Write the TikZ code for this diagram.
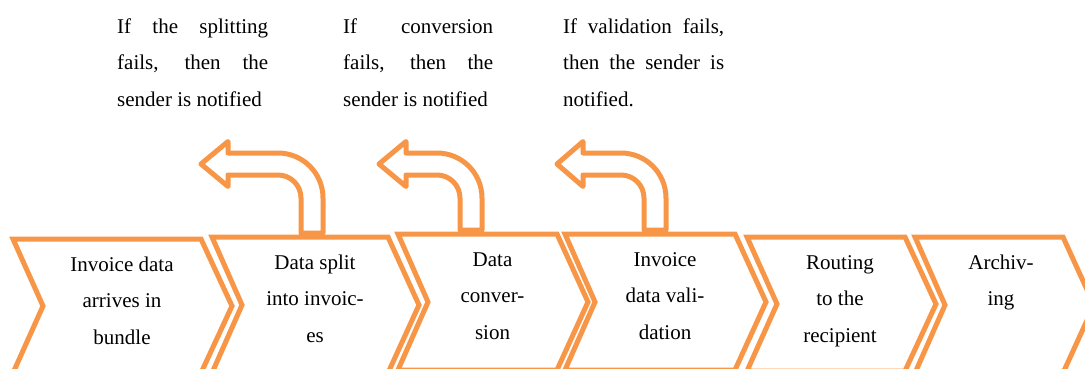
\documentclass[tikz,border=0pt]{standalone}
\usepackage{fontspec}
\setmainfont{Liberation Serif}
\definecolor{accent}{HTML}{F79646}
\newcommand\notefont{\fontsize{21}{36.5}\selectfont\tolerance=10000\relax\hyphenpenalty=10000\relax}
\tikzset{
  chev/.style={draw=accent, line width=5pt, line join=miter, fill=white},
  uturn/.style={draw=accent, line width=5pt, line join=round, fill=white},
  steplabel/.style={font=\fontsize{21}{36.5}\selectfont, align=center, anchor=north, inner sep=0pt},
  note/.style={font=\notefont, align=justify, text width=#1, anchor=north west, inner sep=0pt}
}
% chevron: left x, right x, top y, middle y
\newcommand\chevshape[4]{%
  \draw[chev] (#1,#3) -- (#2,#3) -- ({#2+31},#4) -- (#2,{2*#4-#3})
    -- (#1,{2*#4-#3}) -- ({#1+30},#4) -- cycle;}
% turn-back arrow: inner x, arc centre x, head back x, tip x, base y
\newcommand\backarrow[5]{%
  \draw[uturn] ({#1+22},#5) -- ({#1+22},198) arc[start angle=0,end angle=90,radius=45pt]
    -- (#3,153) -- (#3,141.5) -- (#4,164) -- (#3,186.5) -- (#3,175)
    -- (#2,175) arc[start angle=90,end angle=0,radius=23pt] -- (#1,#5) -- cycle;}
\begin{document}
\begin{tikzpicture}[x=1pt,y=-1pt]
\useasboundingbox (0,0) rectangle (1085,369);
\clip (0,0) rectangle (1085,369);

% process steps
\chevshape{13}{201}{239}{306}
\chevshape{212}{388}{237}{305}
\chevshape{398}{557}{234}{302}
\chevshape{565}{735}{234}{302}
\chevshape{747}{905}{237}{304}
\chevshape{915}{1063}{237}{305}

% failure loops back to the sender
\backarrow{301}{278}{228}{201}{233}
\backarrow{460}{437}{406}{379}{230}
\backarrow{644}{621}{583}{557}{230}

% step labels
\node[steplabel] (s1) at (122,245.5) {\strut Invoice data\\arrives in\\bundle};
\node[steplabel] (s2) at (315,243.5) {\strut Data split\\into invoic-\\es};
\node[steplabel] (s3) at (492.5,240.5) {\strut Data\\conver-\\sion};
\node[steplabel] (s4) at (665,240.5) {\strut Invoice\\data vali-\\dation};
\node[steplabel] (s5) at (840,243.5) {\strut Routing\\to the\\recipient};
\node[steplabel] (s6) at (1001,243.5) {\strut Archiv-\\ing};

% notes above the loops
\node[note=151pt] (n1) at (117,7.5) {\noindent\strut If the splitting\linebreak fails, then the\linebreak sender is notified};
\node[note=150pt] (n2) at (343,7.5) {\noindent\strut If conversion\linebreak fails, then the\linebreak sender is notified};
\node[note=161pt] (n3) at (563,7.5) {\noindent\strut If validation fails,\linebreak then the sender is\linebreak notified.};
\end{tikzpicture}
\end{document}
